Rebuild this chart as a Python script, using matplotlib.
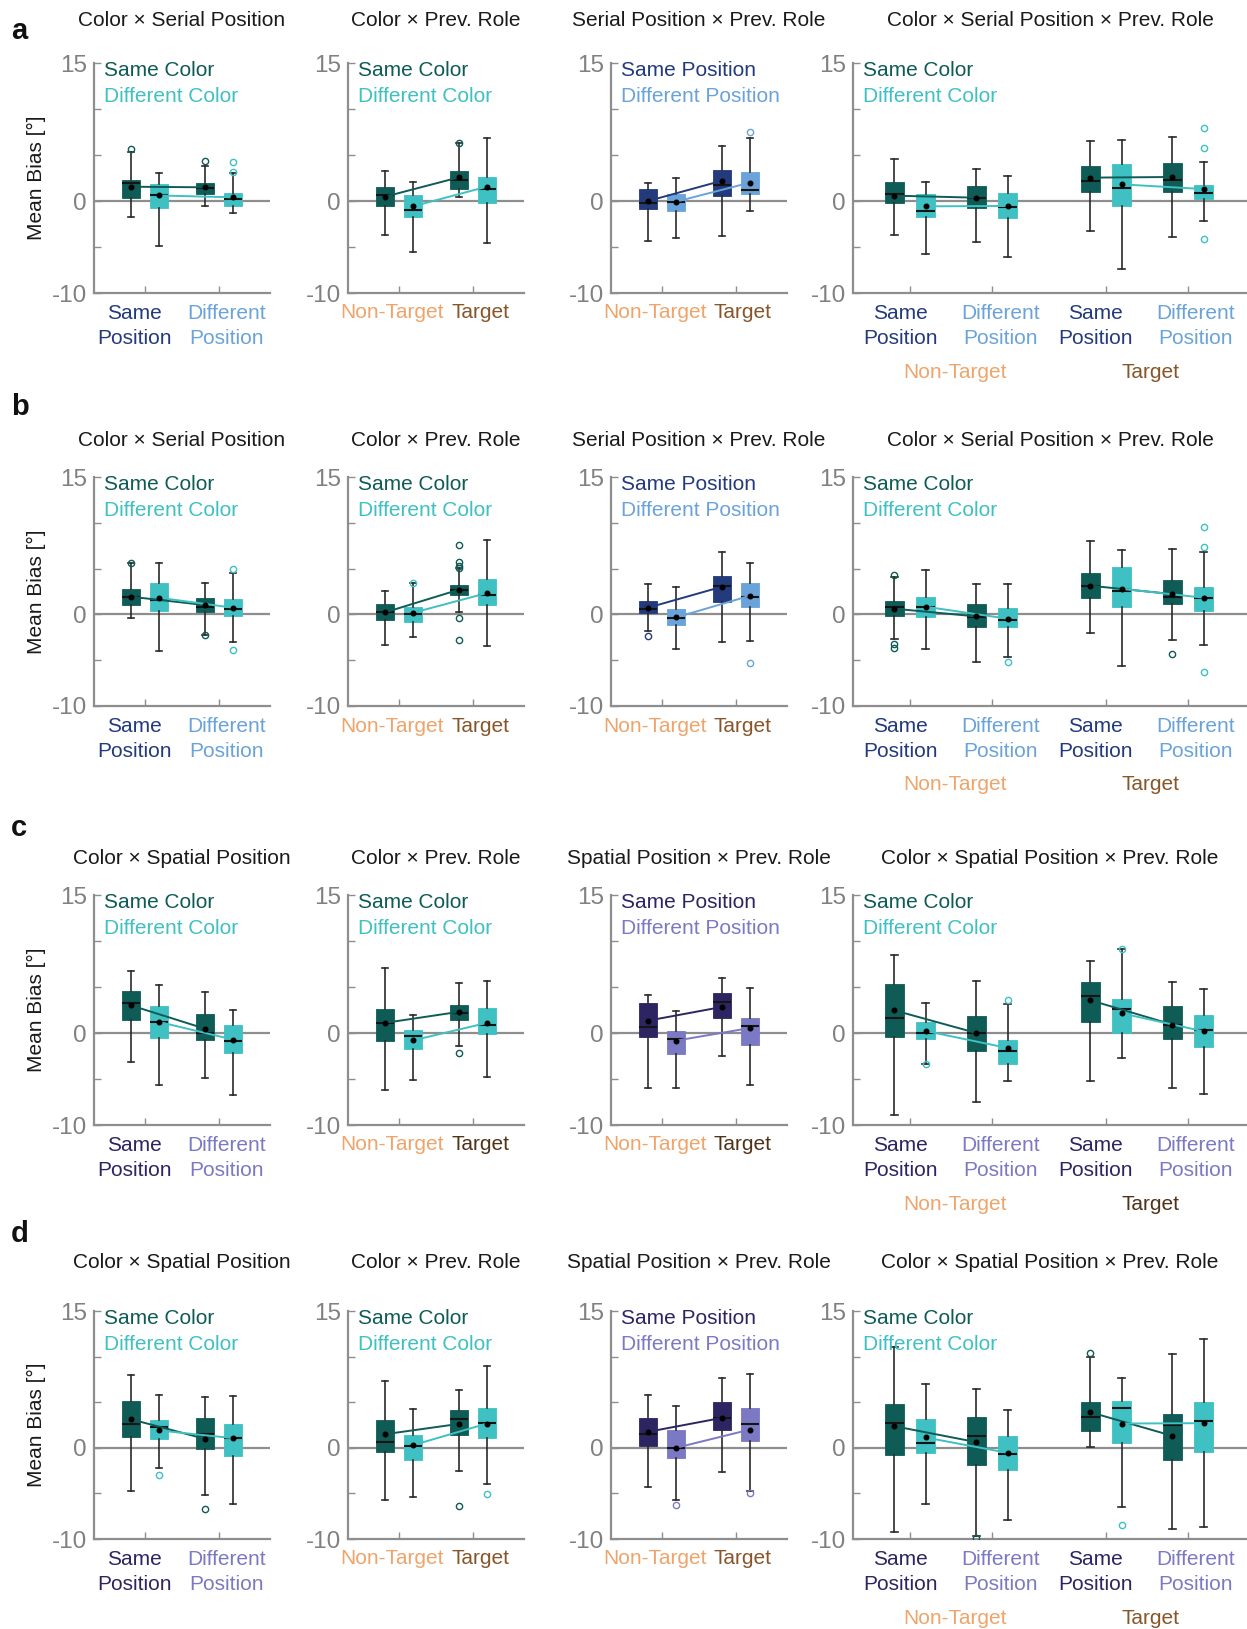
import matplotlib
matplotlib.use('Agg')
import matplotlib.pyplot as plt
import matplotlib.transforms as mtransforms

plt.rcParams['font.family'] = ['Liberation Sans', 'DejaVu Sans']

# ---------------- data: rows = boxes, cols = (whislo, q1, median, q3, whishi, mean)
# panel a
a1_stats = [[-1.75, 0.3, 1.95, 2.3, 5.3, 1.55],
            [-4.9, -0.8, 0.65, 1.9, 3.05, 0.6],
            [-0.54, 0.72, 1.41, 2.0, 3.84, 1.49],
            [-1.27, -0.58, 0.22, 0.9, 3.04, 0.4]]
a1_fliers = [[5.6], [], [4.3], [3.1, 4.24]]
a2_stats = [[-3.7, -0.58, 0.65, 1.52, 3.3, 0.47],
            [-5.58, -1.78, -0.94, 0.65, 2.07, -0.58],
            [0.43, 1.27, 2.32, 3.3, 6.27, 2.57],
            [-4.6, -0.25, 1.3, 2.6, 6.88, 1.56]]
a2_fliers = [[], [], [6.3], []]
a3_stats = [[-4.3, -0.9, -0.18, 1.34, 1.96, 0.0],
            [-3.99, -1.12, -0.07, 0.8, 2.5, -0.07],
            [-3.8, 0.5, 1.78, 3.4, 6.0, 2.2],
            [-1.05, 0.72, 1.23, 3.15, 6.8, 2.0]]
a3_fliers = [[], [], [], [7.46]]
a4_stats = [[-3.7, -0.25, 0.76, 2.07, 4.57, 0.58],
            [-5.72, -1.78, -1.09, 0.8, 2.1, -0.58],
            [-4.46, -0.8, 0.33, 1.67, 3.51, 0.36],
            [-6.09, -1.88, -0.65, 0.9, 2.75, -0.54],
            [-3.26, 0.94, 2.14, 3.84, 6.56, 2.54],
            [-7.43, -0.58, 1.41, 4.06, 6.6, 1.81],
            [-3.88, 0.94, 2.28, 4.13, 6.92, 2.61],
            [-2.14, 0.18, 0.83, 1.78, 4.24, 1.3]]
a4_fliers = [[], [], [], [], [], [], [], [7.97, 5.76, -4.09]]

# panel b
b1_stats = [[-0.4, 0.98, 1.86, 2.77, 5.6, 1.93],
            [-3.97, 0.4, 1.6, 3.43, 5.58, 1.82],
            [-2.26, 0.22, 0.84, 1.79, 3.43, 1.02],
            [-2.99, -0.22, 0.58, 1.68, 4.48, 0.73]]
b1_fliers = [[5.6], [], [-2.3], [4.99, -3.86]]
b2_stats = [[-3.39, -0.66, 0.22, 1.13, 2.51, 0.22],
            [-2.44, -0.87, 0.07, 0.8, 3.39, 0.18],
            [0.22, 2.08, 2.62, 3.21, 5.03, 2.7],
            [-3.46, 0.98, 2.15, 3.86, 8.09, 2.33]]
b2_fliers = [[], [3.43], [7.62, 5.69, 5.32, 5.1, -0.44, -2.77], []]
b3_stats = [[-1.82, 0.11, 0.58, 1.42, 3.32, 0.73],
            [-3.83, -1.2, -0.44, 0.58, 3.02, -0.33],
            [-3.02, 1.31, 3.06, 4.23, 6.81, 3.02],
            [-2.92, 0.84, 1.86, 3.43, 5.61, 2.04]]
b3_fliers = [[-2.41], [], [], [-5.28]]
b4_stats = [[-2.72, -0.22, 0.76, 1.49, 4.07, 0.62],
            [-3.81, -0.33, 0.76, 1.93, 4.83, 0.84],
            [-5.23, -1.42, -0.25, 1.16, 3.31, -0.22],
            [-4.69, -1.42, -0.58, 0.69, 3.34, -0.47],
            [-2.07, 1.82, 3.13, 4.47, 8.03, 3.13],
            [-5.67, 0.8, 2.6, 5.16, 7.05, 2.8],
            [-2.76, 1.16, 1.85, 3.71, 7.09, 2.22],
            [-3.34, 0.4, 1.74, 2.95, 6.83, 1.82]]
b4_fliers = [[4.29, -3.23, -3.67], [], [], [-5.16], [], [], [-4.32], [9.56, 7.38, -6.3]]

# panel c
c1_stats = [[-3.19, 1.45, 3.3, 4.53, 6.7, 3.0],
            [-5.65, -0.51, 1.16, 2.9, 5.18, 1.2],
            [-4.93, -0.72, 0.0, 2.03, 4.46, 0.47],
            [-6.78, -2.21, -0.91, 0.83, 2.54, -0.72]]
c1_fliers = [[], [], [], []]
c2_stats = [[-6.2, -0.9, 1.1, 2.6, 7.1, 1.1],
            [-5.1, -1.7, -0.3, 0.3, 2.0, -0.8],
            [-1.4, 1.36, 2.2, 3.0, 5.4, 2.3],
            [-4.8, -0.1, 0.9, 2.7, 5.6, 1.1]]
c2_fliers = [[], [], [-2.2], []]
c3_stats = [[-5.95, -0.44, 0.69, 3.23, 4.17, 1.34],
            [-6.02, -2.29, -0.62, 0.25, 2.39, -0.83],
            [-2.5, 1.63, 3.41, 4.39, 5.99, 2.83],
            [-5.7, -1.31, 0.76, 1.67, 4.86, 0.54]]
c3_fliers = [[], [], [], []]
c4_stats = [[-8.9, -0.4, 1.67, 5.3, 8.5, 2.46],
            [-3.34, -0.62, 0.0, 1.16, 3.3, 0.22],
            [-7.5, -1.92, 0.0, 1.81, 5.62, 0.0],
            [-5.22, -3.34, -2.0, -0.8, 3.12, -1.63],
            [-5.22, 1.23, 3.99, 5.5, 7.84, 3.56],
            [-2.68, 0.0, 2.61, 3.66, 9.18, 2.14],
            [-5.95, -0.62, 0.91, 2.9, 5.51, 0.91],
            [-6.63, -1.49, 0.36, 1.92, 4.79, 0.18]]
c4_fliers = [[], [-3.37], [], [3.56], [], [9.18], [], []]

# panel d
d1_stats = [[-4.77, 1.2, 2.62, 5.17, 7.98, 3.13],
            [-2.19, 0.98, 2.3, 3.1, 5.8, 1.9],
            [-5.14, -0.11, 1.49, 3.32, 5.58, 0.98],
            [-6.2, -0.87, 1.02, 2.66, 5.65, 1.06]]
d1_fliers = [[], [-2.99], [-6.7], []]
d2_stats = [[-5.69, -0.44, 0.66, 3.1, 7.29, 1.49],
            [-5.39, -1.31, 0.15, 1.35, 4.3, 0.29],
            [-2.59, 1.42, 3.13, 4.19, 6.34, 2.62],
            [-4.0, 1.09, 2.73, 4.41, 8.96, 2.66]]
d2_fliers = [[], [], [-6.34], [-5.1]]
d3_stats = [[-4.34, 0.22, 1.49, 3.32, 5.76, 1.75],
            [-5.76, -1.09, -0.04, 2.0, 4.63, 0.0],
            [-2.7, 1.97, 3.28, 5.07, 7.69, 3.28],
            [-4.7, 0.77, 2.66, 4.41, 8.13, 2.0]]
d3_fliers = [[], [-6.3], [], [-4.99]]
d4_stats = [[-9.18, -0.77, 2.77, 4.85, 11.1, 2.37],
            [-6.16, -0.55, 0.55, 3.21, 6.96, 1.13],
            [-9.66, -1.86, 1.31, 3.43, 6.45, 0.62],
            [-7.87, -2.4, -0.69, 1.24, 4.15, -0.55],
            [0.07, 1.86, 3.39, 5.07, 9.95, 3.9],
            [-6.52, 0.55, 4.41, 5.17, 7.65, 2.66],
            [-8.86, -1.31, 2.55, 3.75, 10.3, 1.31],
            [-8.71, -0.44, 2.95, 5.07, 11.92, 2.7]]
d4_fliers = [[], [], [-9.84], [], [10.42], [-8.49], [], []]

panel_letters = ['a', 'b', 'c', 'd']
titles_serial = ['Color \u00d7 Serial Position', 'Color \u00d7 Prev. Role',
                 'Serial Position \u00d7 Prev. Role', 'Color \u00d7 Serial Position \u00d7 Prev. Role']
titles_spatial = ['Color \u00d7 Spatial Position', 'Color \u00d7 Prev. Role',
                  'Spatial Position \u00d7 Prev. Role', 'Color \u00d7 Spatial Position \u00d7 Prev. Role']
color_labels = ['Same Color', 'Different Color']
pos_labels = ['Same Position', 'Different Position']
pos_tick_labels = ['Same\nPosition', 'Different\nPosition']
role_labels = ['Non-Target', 'Target']
y_ticks = [-10, -5, 0, 5, 10, 15]
y_tick_labels = ['-10', '', '0', '', '', '15']

# ---------------- styling
TEAL_D = '#0f5b56'
TEAL_L = '#3fc0c2'
NAVY = '#233a7c'
LBLUE = '#6aa3d9'
PURP_D = '#2c2562'
PURP_L = '#7b79c3'
NT_COL = '#eea46b'
T_COL = '#87562a'
T_COL_DARK = '#4f3419'
GRAY = '#8e8e8e'
TICKGRAY = '#808080'
FS = 15

W, H = 1247, 1629
fig = plt.figure(figsize=(W / 100, H / 100), dpi=100)

COL_PX = [(94, 270), (348, 524), (611, 787), (853, 1247)]
ROW_PX = [(63, 293), (477, 706), (895, 1125), (1311, 1539)]
TITLE_PX = [20, 440, 859, 1262]
LETTER_PX = [31, 407, 828, 1234]

all_stats = [[a1_stats, a2_stats, a3_stats, a4_stats],
             [b1_stats, b2_stats, b3_stats, b4_stats],
             [c1_stats, c2_stats, c3_stats, c4_stats],
             [d1_stats, d2_stats, d3_stats, d4_stats]]
all_fliers = [[a1_fliers, a2_fliers, a3_fliers, a4_fliers],
              [b1_fliers, b2_fliers, b3_fliers, b4_fliers],
              [c1_fliers, c2_fliers, c3_fliers, c4_fliers],
              [d1_fliers, d2_fliers, d3_fliers, d4_fliers]]


def make_stats(rows, fliers):
    out = []
    for r, f in zip(rows, fliers):
        lo, q1, med, q3, hi, mean = r
        out.append(dict(whislo=lo, q1=q1, med=med, q3=q3, whishi=hi, mean=mean, fliers=f))
    return out


def draw_boxes(ax, rows, fliers, positions, cols):
    st = make_stats(rows, fliers)
    res = ax.bxp(st, positions=positions, widths=0.24, patch_artist=True,
                 showmeans=True, showfliers=True, manage_ticks=False, capwidths=0.09,
                 boxprops=dict(linewidth=0.6),
                 medianprops=dict(color='#151515', linewidth=1.5),
                 whiskerprops=dict(color='#2a2a2a', linewidth=1.2),
                 capprops=dict(color='#2a2a2a', linewidth=1.2),
                 meanprops=dict(marker='o', markerfacecolor='black', markeredgecolor='black',
                                markersize=3.3),
                 flierprops=dict(marker='o', markerfacecolor='none', markersize=4.5,
                                 markeredgewidth=1.0))
    for i, b in enumerate(res['boxes']):
        b.set_facecolor(cols[i])
        b.set_edgecolor(cols[i])
        b.set_zorder(2)
    for i, f in enumerate(res['fliers']):
        f.set_markeredgecolor(cols[i])
        f.set_zorder(4)
    for m in res['medians']:
        m.set_zorder(3)
    for m in res['means']:
        m.set_zorder(6)
    return res


def style_axis(ax, xlim, xt):
    ax.set_xlim(*xlim)
    ax.set_ylim(-10, 15)
    ax.axhline(0, color=GRAY, lw=1.6, zorder=0)
    for s in ['top', 'right']:
        ax.spines[s].set_visible(False)
    for s in ['left', 'bottom']:
        ax.spines[s].set_color(GRAY)
        ax.spines[s].set_linewidth(1.6)
    ax.set_yticks(y_ticks)
    ax.set_yticklabels(y_tick_labels)
    ax.set_xticks(xt)
    ax.set_xticklabels([])
    ax.tick_params(axis='both', direction='in', length=5, width=1.0, color=GRAY,
                   labelcolor=TICKGRAY, labelsize=17.5, pad=5)


def legend_text(ax, labels, colors):
    for k, (lab, c) in enumerate(zip(labels, colors)):
        tr = mtransforms.offset_copy(ax.transAxes, fig=fig, x=10, y=-(7 + 26 * k), units='dots')
        ax.text(0, 1, lab, color=c, fontsize=FS, ha='left', va='center', transform=tr)


def xlabel_text(ax, x, dy, s, c):
    bl = mtransforms.blended_transform_factory(ax.transData, ax.transAxes)
    tr = mtransforms.offset_copy(bl, fig=fig, x=0, y=-dy, units='dots')
    ax.text(x, 0, s, color=c, fontsize=FS, ha='center', va='center', transform=tr,
            linespacing=1.45, clip_on=False)


for r in range(4):
    spatial = r >= 2
    pd_col, pl_col = (PURP_D, PURP_L) if spatial else (NAVY, LBLUE)
    tcol = T_COL_DARK if r == 2 else T_COL
    titles = titles_spatial if spatial else titles_serial
    y0, y1 = ROW_PX[r]
    for c in range(4):
        x0, x1 = COL_PX[c]
        ax = fig.add_axes([x0 / W, 1 - y1 / H, (x1 - x0) / W, (y1 - y0) / H])
        rows = all_stats[r][c]
        fl = all_fliers[r][c]
        if c < 3:
            groups = [1, 2]
            xlim = (0.31, 2.69)
        else:
            groups = [1, 2, 3.39, 4.39]
            xlim = (0.305, 5.11)
        positions = []
        for g in groups:
            positions += [g - 0.19, g + 0.19]
        if c == 2:
            cols = [pd_col, pl_col] * (len(groups))
            line_cols = [pd_col, pl_col]
        else:
            cols = [TEAL_D, TEAL_L] * (len(groups))
            line_cols = [TEAL_D, TEAL_L]
        style_axis(ax, xlim, groups)
        draw_boxes(ax, rows, fl, positions, cols)
        # connecting mean lines
        if c < 3:
            pairs = [(0, 2), (1, 3)]
        else:
            pairs = [(0, 2), (1, 3), (4, 6), (5, 7)]
        for (i, j) in pairs:
            ax.plot([positions[i], positions[j]], [rows[i][5], rows[j][5]],
                    color=line_cols[i % 2], lw=1.4, zorder=5)
        # legend texts
        if c == 2:
            legend_text(ax, pos_labels, [pd_col, pl_col])
        else:
            legend_text(ax, color_labels, [TEAL_D, TEAL_L])
        # x labels
        if c == 0:
            xlabel_text(ax, 0.86, 33, pos_tick_labels[0], pd_col)
            xlabel_text(ax, 2.1, 33, pos_tick_labels[1], pl_col)
        elif c in (1, 2):
            xlabel_text(ax, 0.905, 20, role_labels[0], NT_COL)
            xlabel_text(ax, 2.095, 20, role_labels[1], tcol)
        else:
            offs = [-0.12, 0.1, -0.13, 0.09]
            pcs = [pd_col, pl_col, pd_col, pl_col]
            for k, g in enumerate(groups):
                xlabel_text(ax, g + offs[k], 33, pos_tick_labels[k % 2], pcs[k])
            xlabel_text(ax, 1.55, 79, role_labels[0], NT_COL)
            xlabel_text(ax, 3.93, 79, role_labels[1], tcol)
        # title
        fig.text((x0 + x1) / 2 / W, 1 - TITLE_PX[r] / H, titles[c], fontsize=FS,
                 ha='center', va='center', color='#1a1a1a')
        if c == 0:
            fig.text(36 / W, 1 - (y0 + y1) / 2 / H, 'Mean Bias [\u00b0]', rotation=90,
                     fontsize=FS, ha='center', va='center', color='#1a1a1a')
    fig.text(11 / W, 1 - LETTER_PX[r] / H, panel_letters[r], fontsize=21,
             fontweight='bold', ha='left', va='center', color='#111111')

fig.savefig('out.png', dpi=100)
